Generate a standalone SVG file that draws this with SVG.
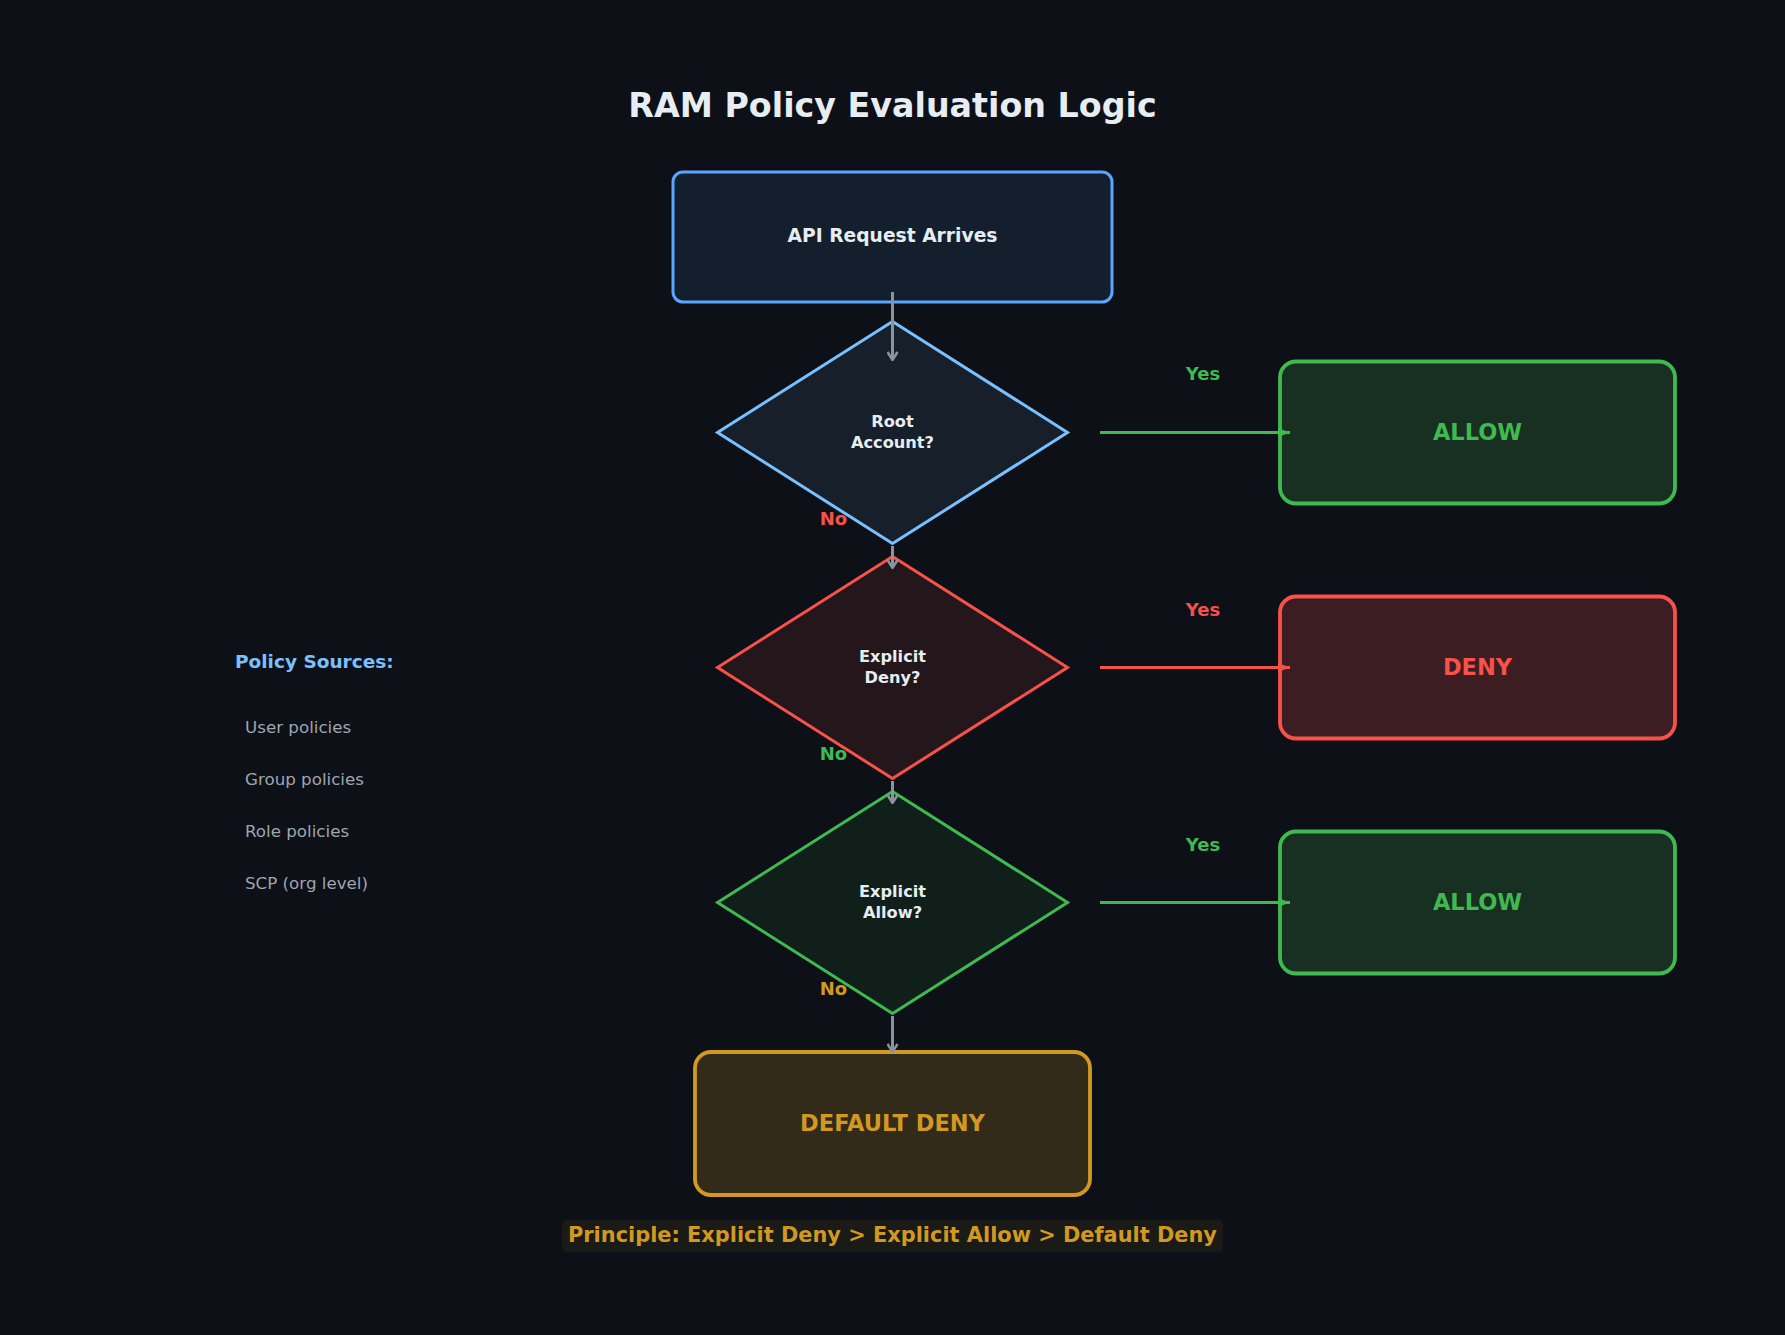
<svg xmlns="http://www.w3.org/2000/svg" width="1785" height="1335" viewBox="0 0 1785 1335">
<defs>
<style>
text{font-family:"DejaVu Sans","Liberation Sans",sans-serif;font-weight:bold}
.title{font-size:33.3px;fill:#e6edf3;text-anchor:middle}
.lbl{font-size:16.2px;fill:#e6edf3;text-anchor:middle}
.big{font-size:22.5px;text-anchor:middle}
.yn{font-size:18px;text-anchor:middle}
.src{font-size:16.7px;font-weight:normal;fill:#9ea6b0}
.gray{stroke:#8b949e;stroke-width:3;fill:none}
</style>
<marker id="chev" viewBox="0 0 10 12" refX="9" refY="6" markerWidth="10" markerHeight="12" markerUnits="userSpaceOnUse" orient="auto">
<path d="M1,1 L9,6 L1,11" fill="none" stroke="#8b949e" stroke-width="2.5"/>
</marker>
<marker id="tg" viewBox="0 0 12 10" refX="12" refY="5" markerWidth="12" markerHeight="10" markerUnits="userSpaceOnUse" orient="auto">
<path d="M0,0.5 L12,5 L0,9.5 z" fill="#3fb950"/>
</marker>
<marker id="tr" viewBox="0 0 12 10" refX="12" refY="5" markerWidth="12" markerHeight="10" markerUnits="userSpaceOnUse" orient="auto">
<path d="M0,0.5 L12,5 L0,9.5 z" fill="#f85149"/>
</marker>
</defs>
<rect width="1785" height="1335" fill="#0d1017"/>
<text class="title" x="892.5" y="117">RAM Policy Evaluation Logic</text>

<g id="node-api">
<rect x="673" y="172" width="439" height="130" rx="10" fill="#131f2d" stroke="#58a6ff" stroke-width="3"/>
<text x="892.5" y="242" font-size="18.7" fill="#e6edf3" text-anchor="middle">API Request Arrives</text>
</g>

<g id="node-root">
<polygon points="892.5,321.5 1067.5,432.5 892.5,543.5 717.5,432.5" fill="#161f2a" stroke="#79c0ff" stroke-width="3"/>
<text class="lbl" x="892.5" y="427">Root</text>
<text class="lbl" x="892.5" y="448">Account?</text>
</g>

<g id="node-deny-q">
<polygon points="892.5,556.5 1067.5,667.5 892.5,778.5 717.5,667.5" fill="#23171b" stroke="#f85149" stroke-width="3"/>
<text class="lbl" x="892.5" y="662">Explicit</text>
<text class="lbl" x="892.5" y="683">Deny?</text>
</g>

<g id="node-allow-q">
<polygon points="892.5,791.5 1067.5,902.5 892.5,1013.5 717.5,902.5" fill="#111f1b" stroke="#3fb950" stroke-width="3"/>
<text class="lbl" x="892.5" y="897">Explicit</text>
<text class="lbl" x="892.5" y="918">Allow?</text>
</g>

<g id="node-allow1">
<rect x="1280" y="361.5" width="395" height="142" rx="16" fill="#173021" stroke="#3fb950" stroke-width="3.8"/>
<text class="big" x="1477.5" y="440" fill="#3fb950">ALLOW</text>
</g>

<g id="node-deny">
<rect x="1280" y="596.5" width="395" height="142" rx="16" fill="#3c1e22" stroke="#f85149" stroke-width="3.8"/>
<text class="big" x="1477.5" y="675" fill="#f85149">DENY</text>
</g>

<g id="node-allow2">
<rect x="1280" y="831.5" width="395" height="142" rx="16" fill="#173021" stroke="#3fb950" stroke-width="3.8"/>
<text class="big" x="1477.5" y="910" fill="#3fb950">ALLOW</text>
</g>

<g id="node-default">
<rect x="695" y="1052" width="395" height="143" rx="16" fill="#332b1a" stroke="#d29922" stroke-width="3.8"/>
<text class="big" x="892.5" y="1131" fill="#d29922">DEFAULT DENY</text>
</g>

<g id="connectors">
<line class="gray" x1="892.5" y1="292" x2="892.5" y2="360" marker-end="url(#chev)"/>
<line class="gray" x1="892.5" y1="546" x2="892.5" y2="568" marker-end="url(#chev)"/>
<line class="gray" x1="892.5" y1="781" x2="892.5" y2="803" marker-end="url(#chev)"/>
<line class="gray" x1="892.5" y1="1016" x2="892.5" y2="1052" marker-end="url(#chev)"/>
<line x1="1100" y1="432.5" x2="1290" y2="432.5" stroke="#3fb950" stroke-width="3" marker-end="url(#tg)"/>
<line x1="1100" y1="667.5" x2="1290" y2="667.5" stroke="#f85149" stroke-width="3" marker-end="url(#tr)"/>
<line x1="1100" y1="902.5" x2="1290" y2="902.5" stroke="#3fb950" stroke-width="3" marker-end="url(#tg)"/>
<text class="yn" x="1203" y="380" fill="#3fb950">Yes</text>
<text class="yn" x="1203" y="615.5" fill="#f85149">Yes</text>
<text class="yn" x="1203" y="850.5" fill="#3fb950">Yes</text>
<text class="yn" x="833.5" y="524.5" fill="#f85149">No</text>
<text class="yn" x="833.5" y="759.5" fill="#3fb950">No</text>
<text class="yn" x="833.5" y="994.5" fill="#d29922">No</text>
</g>

<g id="policy-sources">
<text x="235" y="668" font-size="18.5" fill="#79c0ff">Policy Sources:</text>
<text class="src" x="245" y="733">User policies</text>
<text class="src" x="245" y="785">Group policies</text>
<text class="src" x="245" y="837">Role policies</text>
<text class="src" x="245" y="889">SCP (org level)</text>
</g>

<g id="principle">
<rect x="562" y="1220" width="661" height="32" rx="5" fill="#1a1a17"/>
<text x="892.5" y="1242" font-size="20.9" fill="#d29922" text-anchor="middle">Principle: Explicit Deny &gt; Explicit Allow &gt; Default Deny</text>
</g>
</svg>
